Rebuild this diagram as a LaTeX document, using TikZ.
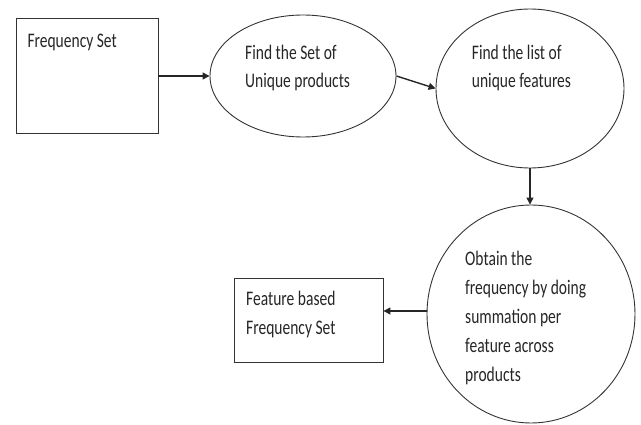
\documentclass[tikz,border=0pt]{standalone}
\usepackage{fontspec}
\setmainfont{Carlito}[FakeStretch=0.75]
\usetikzlibrary{shapes.geometric,arrows.meta}
\begin{document}
\begin{tikzpicture}[x=1pt,y=-1pt,
  shape line/.style={draw=black!80,line width=0.9pt,inner sep=0pt},
  boxshape/.style={shape line,rectangle},
  ellshape/.style={shape line,ellipse},
  txt/.style={anchor=base west,align=left,inner sep=0pt,text=black!85,font=\fontsize{20.7}{27.5}\selectfont},
  txtwide/.style={txt,font=\fontsize{20.7}{29}\selectfont},
  conn/.style={draw=black!85,line width=1.4pt,-{Triangle[length=7pt,width=7pt]}}]
\useasboundingbox (0,0) rectangle (641,425);
% shapes
\node[boxshape,minimum width=142pt,minimum height=115pt] (b1) at (87,75.5) {};
\node[ellshape,minimum width=186pt,minimum height=122pt] (e1) at (303,76) {};
\node[ellshape,minimum width=188pt,minimum height=159pt] (e2) at (530,88.5) {};
\node[ellshape,minimum width=208pt,minimum height=218pt] (c3) at (531,314) {};
\node[boxshape,minimum width=149pt,minimum height=84pt] (b4) at (308.5,320) {};
% texts (anchor at the baseline of the last line)
\node[txt] (t1) at (27.3,47.7) {Frequency Set};
\node[txt] (t2) at (245,87.5) {Find the Set of\\Unique products};
\node[txt] (t3) at (471.7,87.3) {Find the list of\\unique features};
\node[txtwide] (t4) at (465,381.7) {Obtain the\\frequency by doing\\summation per\\feature across\\products};
\node[txtwide] (t5) at (246,334.3) {Feature based\\Frequency Set};
% connectors
\draw[conn] (b1.east |- e1.west) -- (e1.west);
\draw[conn] (e1.east) -- (e2.west);
\draw[conn] (e2.south) -- (e2.south |- c3.north);
\coordinate (c3w) at ([yshift=3pt]c3.west);
\draw[conn] (c3w) -- (c3w -| b4.east);
\end{tikzpicture}
\end{document}
